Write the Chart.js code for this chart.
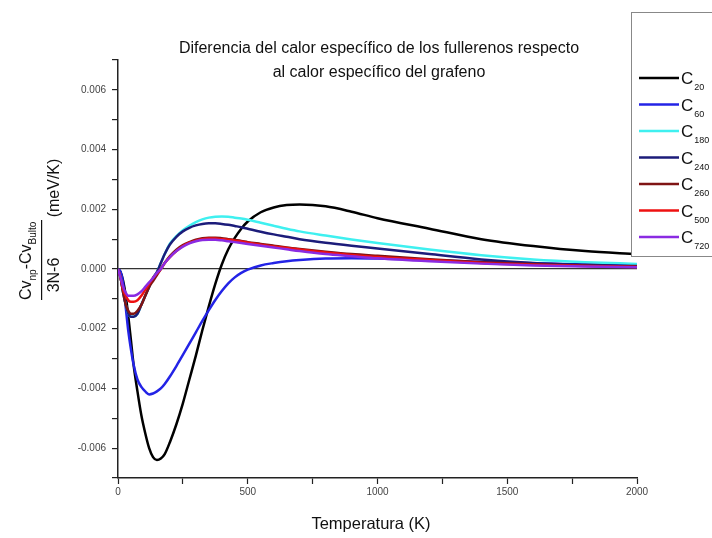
<!DOCTYPE html>
<html>
<head>
<meta charset="utf-8">
<script src="https://cdn.jsdelivr.net/npm/chart.js@4/dist/chart.umd.min.js"></script>
<style>
  html, body { margin: 0; padding: 0; background: #fff; }
  #wrap { width: 712px; height: 538px; position: relative; }
</style>
</head>
<body>
<div id="wrap"><canvas id="c" width="712" height="538"></canvas></div>
<script>
// ---- Data ----
const temps = [0, 10, 20, 30, 40, 50, 60, 75, 90, 105, 120, 135, 150, 165, 180, 200, 225, 250, 275, 300, 325, 350, 375, 400, 425, 450, 475, 500, 550, 600, 650, 700, 800, 900, 1000, 1200, 1400, 1600, 1800, 2000];

const c20  = [0, -0.0001, -0.0004, -0.0009, -0.0016, -0.0024, -0.0032, -0.0041, -0.0049, -0.0055, -0.0060, -0.0063, -0.0064, -0.00635, -0.0062, -0.0058, -0.0052, -0.0045, -0.0037, -0.0029, -0.00205, -0.00125, -0.0005, 0.00015, 0.00066, 0.00104, 0.00135, 0.00159, 0.0019, 0.00206, 0.00214, 0.00216, 0.0021, 0.00192, 0.0017, 0.00135, 0.0010, 0.00077, 0.0006, 0.0005];
const c60  = [0, -0.0001, -0.0005, -0.0013, -0.0021, -0.0027, -0.0032, -0.0037, -0.00395, -0.0041, -0.0042, -0.00417, -0.0041, -0.0040, -0.00385, -0.0036, -0.00325, -0.00288, -0.0025, -0.00212, -0.00174, -0.00138, -0.00104, -0.00074, -0.00048, -0.00028, -0.00013, -0.00002, 0.00012, 0.0002, 0.00026, 0.0003, 0.00035, 0.00036, 0.00035, 0.0003, 0.00024, 0.00019, 0.00015, 0.00012];
const c180 = [0, -0.0003, -0.0008, -0.0012, -0.0015, -0.0016, -0.0016, -0.0015, -0.0012, -0.0009, -0.0006, -0.0003, -0.0001, 0.0002, 0.0005, 0.00085, 0.0011, 0.0013, 0.00145, 0.00157, 0.00166, 0.00172, 0.00175, 0.00176, 0.00175, 0.00172, 0.00169, 0.00165, 0.00155, 0.00145, 0.00135, 0.00126, 0.00112, 0.00099, 0.00087, 0.00065, 0.00046, 0.00032, 0.00023, 0.00017];
const c240 = [0, -0.0003, -0.0008, -0.0012, -0.0015, -0.0016, -0.0016, -0.0015, -0.0012, -0.0009, -0.0006, -0.0003, -0.0001, 0.0002, 0.0005, 0.00082, 0.00108, 0.00126, 0.00138, 0.00146, 0.00151, 0.00153, 0.00153, 0.00151, 0.00148, 0.00144, 0.0014, 0.00135, 0.00125, 0.00116, 0.00108, 0.0010, 0.00088, 0.00078, 0.00069, 0.0005, 0.00032, 0.0002, 0.00014, 0.0001];
const c260 = [0, -0.0003, -0.0008, -0.0012, -0.0014, -0.0015, -0.0015, -0.0014, -0.0012, -0.0009, -0.0006, -0.0004, -0.0002, 0.0000, 0.0002, 0.00043, 0.00065, 0.0008, 0.0009, 0.00098, 0.00103, 0.00105, 0.00105, 0.00103, 0.0010, 0.00097, 0.00094, 0.0009, 0.00084, 0.00078, 0.00072, 0.00067, 0.00058, 0.0005, 0.00044, 0.00033, 0.00023, 0.00016, 0.00011, 0.00008];
const c500 = [0, -0.0003, -0.0007, -0.0009, -0.00105, -0.0011, -0.0011, -0.00105, -0.0009, -0.0007, -0.0005, -0.0003, -0.00015, 0.0000, 0.0002, 0.0004, 0.0006, 0.00077, 0.00088, 0.00095, 0.0010, 0.00102, 0.00102, 0.0010, 0.00098, 0.00095, 0.00092, 0.00088, 0.00081, 0.00075, 0.0007, 0.00065, 0.00055, 0.00047, 0.0004, 0.0003, 0.0002, 0.00014, 0.0001, 0.00007];
const c720 = [0, -0.0003, -0.0006, -0.0008, -0.0009, -0.0009, -0.0009, -0.00085, -0.00075, -0.0006, -0.00045, -0.0003, -0.00013, 0.0000, 0.0002, 0.0004, 0.0006, 0.00075, 0.00086, 0.00093, 0.00097, 0.00098, 0.00098, 0.00096, 0.00093, 0.0009, 0.00087, 0.00084, 0.00078, 0.00072, 0.00066, 0.0006, 0.0005, 0.00043, 0.00036, 0.00026, 0.00018, 0.00012, 0.00008, 0.00006];

const seriesNames = ['20', '60', '180', '240', '260', '500', '720'];
const seriesValues = [c20, c60, c180, c240, c260, c500, c720];
const seriesColors = ['#000000', '#2323e6', '#3ff0f0', '#1c1c7a', '#7f1414', '#ee1111', '#8a2be2'];

const titleLines = ['Diferencia del calor específico de los fullerenos respecto', 'al calor específico del grafeno'];
const xTitle = 'Temperatura (K)';

const FONT = '"Liberation Sans", Arial, sans-serif';

const datasets = seriesValues.map((vals, i) => ({
  label: 'C' + seriesNames[i],
  data: temps.map((t, j) => ({ x: t, y: vals[j] })),
  borderColor: seriesColors[i],
  backgroundColor: seriesColors[i],
  borderWidth: 2.5,
  pointRadius: 0,
  fill: false,
  cubicInterpolationMode: 'monotone',
  order: seriesValues.length - i
}));

const decorPlugin = {
  id: 'decor',
  afterDraw(chart) {
    const ctx = chart.ctx;
    ctx.save();
    ctx.fillStyle = '#111';
    // Title
    ctx.font = '16px ' + FONT;
    ctx.textAlign = 'center';
    ctx.textBaseline = 'middle';
    ctx.fillText(titleLines[0], 379, 49);
    ctx.fillText(titleLines[1], 379, 73);
    // X title
    ctx.font = '16.5px ' + FONT;
    ctx.fillText(xTitle, 371, 524);

    // Y title (rotated fraction)
    ctx.save();
    ctx.rotate(-Math.PI / 2);
    ctx.textAlign = 'left';
    ctx.textBaseline = 'alphabetic';
    const big = '16px ' + FONT, small = '10px ' + FONT;
    let u = -300; const base = 31;
    const parts = [['Cv', big, 0], ['np', small, 5], ['-Cv', big, 0], ['Bulto', small, 5]];
    for (const [t, f, off] of parts) {
      ctx.font = f;
      ctx.fillText(t, u, base + off);
      u += ctx.measureText(t).width;
    }
    ctx.fillRect(-300, 41, 80, 1.2);
    ctx.font = big;
    ctx.textAlign = 'center';
    ctx.fillText('3N-6', -275, 59);
    ctx.fillText('(meV/K)', -188, 59);
    ctx.restore();

    // Legend box
    ctx.strokeStyle = '#888';
    ctx.lineWidth = 1;
    ctx.fillStyle = '#fff';
    ctx.fillRect(631, 12, 90, 244);
    ctx.strokeRect(631.5, 12.5, 90, 244);
    const y0 = 78, dy = 26.5;
    seriesNames.forEach((n, i) => {
      const y = y0 + i * dy;
      ctx.strokeStyle = seriesColors[i];
      ctx.lineWidth = 2.5;
      ctx.beginPath();
      ctx.moveTo(639, y);
      ctx.lineTo(679, y);
      ctx.stroke();
      ctx.fillStyle = '#111';
      ctx.textAlign = 'left';
      ctx.textBaseline = 'alphabetic';
      ctx.font = '17px ' + FONT;
      ctx.fillText('C', 681, y + 6);
      const w = ctx.measureText('C').width;
      ctx.font = '9px ' + FONT;
      ctx.fillText(n, 681 + w + 1, y + 12);
    });
    ctx.restore();
  }
};

new Chart(document.getElementById('c'), {
  type: 'line',
  data: { datasets },
  options: {
    responsive: false,
    animation: false,
    layout: { padding: { left: 0, right: 75, top: 60, bottom: 0 } },
    plugins: { legend: { display: false }, tooltip: { enabled: false }, title: { display: false } },
    scales: {
      x: {
        type: 'linear', min: 0, max: 2000,
        border: { display: true, color: '#222', width: 1.5 },
        grid: { drawOnChartArea: false, drawTicks: true, tickLength: 6, tickColor: '#222', tickWidth: 1.2 },
        ticks: {
          stepSize: 250, autoSkip: false, maxRotation: 0, padding: 2,
          color: '#444', font: { family: FONT, size: 10 },
          callback: v => (v % 500 === 0 ? String(v) : '')
        },
        afterFit: s => { s.height = 60; }
      },
      y: {
        type: 'linear', min: -0.007, max: 0.007,
        border: { display: true, color: '#222', width: 1.5 },
        grid: {
          drawOnChartArea: true, drawTicks: true, tickLength: 6, tickWidth: 1.2, tickColor: '#222',
          color: c => (c.tick && Math.abs(c.tick.value) < 1e-9 ? '#333' : 'rgba(0,0,0,0)'),
          lineWidth: 1.2
        },
        ticks: {
          stepSize: 0.001, autoSkip: false, padding: 6,
          color: '#444', font: { family: FONT, size: 10 },
          callback: v => {
            const r = Math.round(v * 1000);
            if (r % 2 !== 0 || Math.abs(r) === 7) return '';
            return (r / 1000).toFixed(3);
          }
        },
        afterFit: s => { s.width = 118; }
      }
    }
  },
  plugins: [decorPlugin]
});
</script>
</body>
</html>
